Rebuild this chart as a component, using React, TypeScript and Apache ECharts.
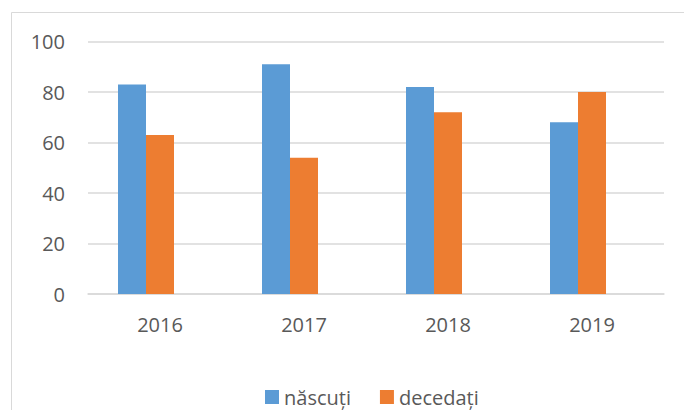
import React, { useEffect, useRef } from "react";
import * as echarts from "echarts";

const categories = ["2016", "2017", "2018", "2019"];
const nascuti = [83, 91, 82, 68];
const decedati = [63, 54, 72, 80];
const emptySeries = [null, null, null, null];
const seriesNames = ["născuți", "decedați"];

export default function App() {
  const ref = useRef<HTMLDivElement>(null);
  useEffect(() => {
    if (!ref.current) return;
    const chart = echarts.init(ref.current, undefined, { renderer: "svg" });
    const font = "'Open Sans', 'Noto Sans', sans-serif";
    chart.setOption({
      animation: false,
      textStyle: { fontFamily: font },
      graphic: [
        {
          type: "rect",
          shape: { x: 11.5, y: 12.5, width: 700, height: 420 },
          style: { fill: "none", stroke: "#D9D9D9", lineWidth: 1 },
          silent: true,
        },
      ],
      grid: { left: 88, right: 20, top: 41.5, bottom: 116, containLabel: false },
      legend: {
        data: seriesNames,
        left: 265,
        top: 387,
        padding: 0,
        icon: "rect",
        itemWidth: 14,
        itemHeight: 14,
        itemGap: 29,
        itemStyle: { borderWidth: 0 },
        textStyle: { color: "#595959", fontSize: 20, lineHeight: 20, fontFamily: font },
      },
      xAxis: {
        type: "category",
        data: categories,
        axisLine: { lineStyle: { color: "#D9D9D9", width: 1.5 } },
        axisTick: { show: false },
        axisLabel: { color: "#595959", fontSize: 20, margin: 20, fontFamily: font },
      },
      yAxis: {
        type: "value",
        min: 0,
        max: 100,
        interval: 20,
        axisLine: { show: false },
        axisTick: { show: false },
        splitLine: { lineStyle: { color: "#D9D9D9", width: 1.5 } },
        axisLabel: { color: "#595959", fontSize: 20, margin: 23, fontFamily: font },
      },
      series: [
        {
          name: seriesNames[0],
          type: "bar",
          data: nascuti,
          barWidth: 28,
          barGap: "0%",
          itemStyle: { color: "#5B9BD5" },
        },
        {
          name: seriesNames[1],
          type: "bar",
          data: decedati,
          barWidth: 28,
          barGap: "0%",
          itemStyle: { color: "#ED7D31" },
        },
        {
          name: "_gap",
          type: "bar",
          data: emptySeries,
          barWidth: 28,
          barGap: "0%",
        },
      ],
    });
    return () => chart.dispose();
  }, []);
  return (
    <div
      ref={ref}
      style={{ position: "absolute", left: 0, top: 0, width: 684, height: 410, background: "#fff" }}
    />
  );
}
